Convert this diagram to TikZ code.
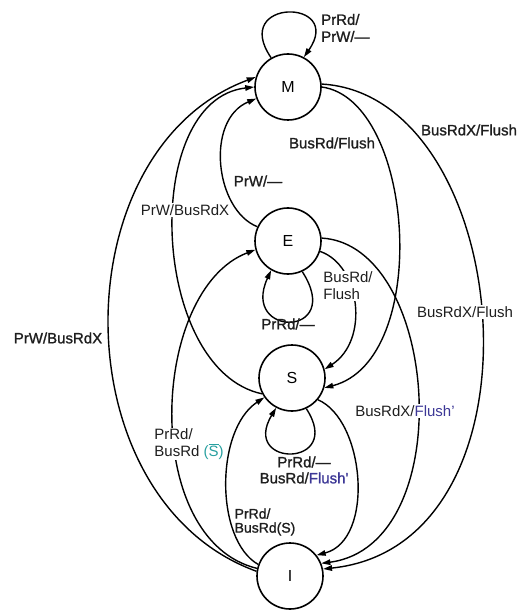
\documentclass[tikz,border=0pt]{standalone}
\usepackage{fontspec}
\setmainfont{Liberation Sans}
\newfontfamily\heavyfont{Liberation Sans}[FakeBold=1.2]
\usetikzlibrary{arrows.meta}
\definecolor{inkdark}{RGB}{30,30,30}
\definecolor{flushblue}{RGB}{60,55,150}
\definecolor{sbarteal}{RGB}{40,160,160}

\tikzset{
  state/.style={circle, draw, line width=1.6pt, minimum size=66pt, inner sep=0pt,
    font=\fontsize{16}{16}\selectfont},
  trans/.style={->, line width=1.4pt},
  lbl/.style={font=\fontsize{15}{17}\selectfont, inner sep=1pt, align=left, text=inkdark},
  lblbox/.style={lbl, fill=white},
  heavy/.style={font=\heavyfont\fontsize{15}{17}\selectfont}
}

\begin{document}
\begin{tikzpicture}[x=1pt, y=1pt, >={Triangle[length=9pt,width=5.5pt]}]
  \useasboundingbox (0,0) rectangle (523,-612);

  % States
  \node[state] (M) at (288,-87) {M};
  \node[state] (E) at (288,-241) {E};
  \node[state] (S) at (292,-378) {S};
  \node[state] (I) at (290,-576) {I};

  % Self loops
  \draw[trans] (M.120) .. controls (230,2) and (345,2) .. (M.62);
  \draw[trans] (E.-65) .. controls (345,-338) and (240,-338) .. (E.-120);
  \draw[trans] (S.-65) .. controls (345,-468) and (240,-468) .. (S.-118);

  % Left side transitions
  \draw[trans] (E.155) .. controls (215,-210) and (205,-120) .. (M.200);
  \draw[trans] (S.208) .. controls (150,-370) and (140,-100) .. (M.180);
  \draw[trans] (I.172) .. controls (60,-500) and (60,-150) .. (M.163);
  \draw[trans] (I.167) .. controls (140,-540) and (150,-290) .. (E.195);
  \draw[trans] (I.160) .. controls (215,-540) and (215,-430) .. (S.215);

  % Right side transitions
  \draw[trans] (M.0) .. controls (415,-100) and (432,-360) .. (S.-17);
  \draw[trans] (M.5) .. controls (515,-95) and (555,-545) .. (I.12);
  \draw[trans] (E.-18) .. controls (360,-265) and (370,-340) .. (S.15);
  \draw[trans] (E.5) .. controls (440,-245) and (460,-545) .. (I.22);
  \draw[trans] (S.-40) .. controls (365,-420) and (375,-540) .. (I.38);

  % Labels
  \node[lbl, heavy, anchor=west] (lMloop) at (320,-28) {PrRd/\\PrW/—};
  \node[lbl, heavy] (lEM) at (258,-181) {PrW/—};
  \node[lblbox] (lSM) at (185,-210) {PrW/BusRdX};
  \node[lblbox, heavy] (lIM) at (58,-338) {PrW/BusRdX};
  \node[lbl, heavy] (lMS) at (332,-143) {BusRd/Flush};
  \node[lbl, heavy] (lMI) at (469,-130) {BusRdX/Flush};
  \node[lblbox] (lES) at (348,-286) {BusRd/\\Flush};
  \node[lblbox] (lEI) at (465,-312) {BusRdX/Flush};
  \node[lbl, heavy] (lEloop) at (288,-324) {PrRd/—};
  \node[lblbox] (lSI) at (405,-411) {BusRdX/\textcolor{flushblue}{Flush'}};
  \node[lbl, heavy, align=center, font=\heavyfont\fontsize{15}{16}\selectfont] (lSloop) at (304,-470)
    {PrRd/—\\BusRd/\textcolor{flushblue}{Flush'}};
  \node[lblbox] (lIE) at (189,-444)
    {PrRd/\\BusRd \textcolor{sbarteal}{($\overline{\mbox{S}}$)}};
  \node[lbl, heavy, font=\heavyfont\fontsize{14}{14}\selectfont] (lIS) at (265,-522) {PrRd/\\BusRd(S)};
\end{tikzpicture}
\end{document}
